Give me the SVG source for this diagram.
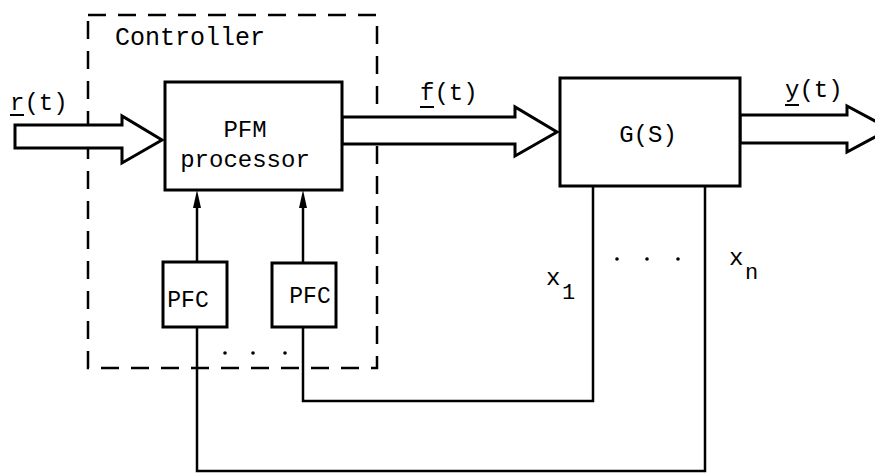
<svg xmlns="http://www.w3.org/2000/svg" width="875" height="475" viewBox="0 0 875 475">
<style>
.box{fill:#fff;stroke:#000;stroke-width:3}
.big{fill:#fff;stroke:#000;stroke-width:3;stroke-linejoin:miter}
.ln{fill:none;stroke:#000;stroke-width:2.5}
.dash{fill:none;stroke:#000;stroke-width:2.5;stroke-dasharray:18 12}
text{font-family:"Liberation Mono","Courier New",monospace;font-size:24px;fill:#000}
.ul{stroke:#000;stroke-width:2}
.dot{fill:#000}
</style>
<defs>
<path id="tri" d="M0,0 l-4,18 h8 z" fill="#000"/>
</defs>
<rect width="875" height="475" fill="#fff"/>
<g id="controller">
<rect class="dash" x="88" y="15" width="289" height="353"/>
<text x="115" y="45" style="font-size:25px">Controller</text>
</g>
<g id="connectors">
<polygon class="big" points="15,125 122,125 122,116 162,140 122,163 122,148 15,148"/>
<polygon class="big" points="342,117 515,117 515,107 557,132 515,156 515,144 342,144"/>
<polygon class="big" points="740,115 847,115 847,106 890,129 847,152 847,143 740,143"/>
<path class="ln" d="M197,262 V200"/>
<path class="ln" d="M303,263 V200"/>
<use href="#tri" x="197" y="190"/>
<use href="#tri" x="303" y="190"/>
<path class="ln" d="M303,327 V401 H593 V186"/>
<path class="ln" d="M197,327 V471 H705 V186"/>
</g>
<g id="pfm">
<rect class="box" x="165" y="82" width="177" height="108"/>
<text x="245" y="137" text-anchor="middle">PFM</text>
<text x="245" y="167" text-anchor="middle">processor</text>
</g>
<g id="pfc1">
<rect class="box" x="163" y="262" width="64" height="65"/>
<text x="188" y="307" text-anchor="middle" style="font-size:23px">PFC</text>
</g>
<g id="pfc2">
<rect class="box" x="272" y="263" width="64" height="64"/>
<text x="310" y="303" text-anchor="middle" style="font-size:23px">PFC</text>
</g>
<g id="plant">
<rect class="box" x="560" y="78" width="180" height="108"/>
<text x="648" y="142" text-anchor="middle">G(S)</text>
</g>
<g id="labels">
<text x="10" y="110">r(t)</text>
<line class="ul" x1="10" y1="115" x2="24" y2="115"/>
<text x="420" y="100">f(t)</text>
<line class="ul" x1="420" y1="107" x2="434" y2="107"/>
<text x="785" y="97">y(t)</text>
<line class="ul" x1="785" y1="105" x2="799" y2="105"/>
<text x="546" y="285">x</text>
<text x="562" y="299" style="font-size:22px">1</text>
<text x="729" y="265">x</text>
<text x="745" y="279" style="font-size:22px">n</text>
<circle class="dot" cx="225" cy="353" r="1.8"/>
<circle class="dot" cx="253" cy="353" r="1.8"/>
<circle class="dot" cx="285" cy="353" r="1.8"/>
<circle class="dot" cx="617" cy="259" r="1.8"/>
<circle class="dot" cx="647" cy="259" r="1.8"/>
<circle class="dot" cx="678" cy="259" r="1.8"/>
</g>
</svg>
